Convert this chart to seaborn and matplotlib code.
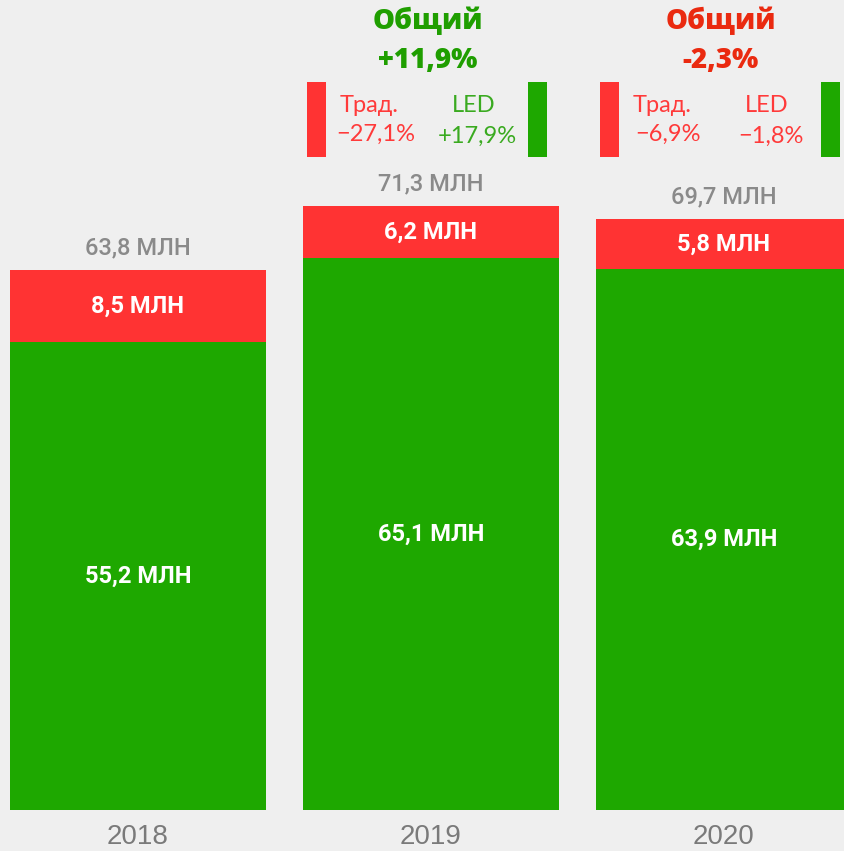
import matplotlib
matplotlib.use("Agg")
import matplotlib.pyplot as plt
import matplotlib.transforms as mtransforms
from matplotlib.patches import Rectangle
import seaborn as sns

# ---- data ----
years = ['2018', '2019', '2020']
led = [55.2, 65.1, 63.9]
trad = [8.5, 6.2, 5.8]
total = [63.8, 71.3, 69.7]
total_change = ['', '+11,9%', '-2,3%']
trad_change = ['', '−27,1%', '−6,9%']
led_change = ['', '+17,9%', '−1,8%']

GREEN = '#1ea800'
RED = '#ff3333'
BG = '#efefef'


def fmt(v):
    return f"{v:.1f}".replace('.', ',') + ' МЛН'


sns.set_style('white')
fig = plt.figure(figsize=(8.44, 8.51), dpi=100, facecolor=BG)
ax = fig.add_axes([0, 0, 1, 1])
ax.set_facecolor(BG)

stack_top = [a + b for a, b in zip(led, trad)]
sns.barplot(x=years, y=stack_top, color=RED, saturation=1, width=0.874,
            linewidth=0, ax=ax)
sns.barplot(x=years, y=led, color=GREEN, saturation=1, width=0.874,
            linewidth=0, ax=ax)

ax.set_xlim(-0.471, 2.41)
ax.set_ylim(-4.84, 95.6)
ax.axis('off')

# labels inside and above the bars
for i, yr in enumerate(years):
    ax.text(i, led[i] / 2, fmt(led[i]), ha='center', va='center',
            color='white', fontsize=17, family='Roboto', weight='bold')
    ax.text(i, led[i] + trad[i] / 2, fmt(trad[i]), ha='center', va='center',
            color='white', fontsize=17, family='Roboto', weight='bold')
    ax.annotate(fmt(total[i]), (i, stack_top[i]), xytext=(0, 16),
                textcoords='offset points', ha='center', va='center',
                color='#8a8a8a', fontsize=17, family='Roboto', weight='medium')
    ax.text(i, -3.2, yr, ha='center', va='center', color='#7a7a7a',
            fontsize=20, family='Liberation Sans')

# change headers (fixed height at the top)
blend = mtransforms.blended_transform_factory(ax.transData, ax.transAxes)
for i, ch in enumerate(total_change):
    if not ch:
        continue
    col = '#1f9e00' if ch.startswith('+') else '#ea2a10'
    ax.text(i - 0.01, 1 - 22 / 851, 'Общий', transform=blend, ha='center',
            va='center', color=col, fontsize=20, family='Open Sans',
            weight='heavy')
    ax.text(i - 0.01, 1 - 60 / 851, ch, transform=blend, ha='center',
            va='center', color=col, fontsize=20, family='Open Sans',
            weight='heavy')
    # small coloured markers
    ax.add_patch(Rectangle((i - 0.423, 1 - 157 / 851), 0.065, 75 / 851,
                           transform=blend, color=RED, lw=0))
    ax.add_patch(Rectangle((i + 0.331, 1 - 157 / 851), 0.065, 75 / 851,
                           transform=blend, color=GREEN, lw=0))
    ax.text(i - 0.21, 1 - 105 / 851, 'Трад.', transform=blend, ha='center',
            va='center', color='#ff3a3a', fontsize=17, family='Lato',
            weight='normal')
    ax.text(i - 0.19, 1 - 134 / 851, trad_change[i], transform=blend,
            ha='center', va='center', color='#ff3a3a', fontsize=17,
            family='Lato', weight='normal')
    led_col = '#3aaa20' if led_change[i].startswith('+') else '#ff3a3a'
    ax.text(i + 0.147, 1 - 105 / 851, 'LED', transform=blend, ha='center',
            va='center', color=led_col, fontsize=17, family='Lato',
            weight='normal')
    ax.text(i + 0.16, 1 - 136 / 851, led_change[i], transform=blend,
            ha='center', va='center', color=led_col, fontsize=17,
            family='Lato', weight='normal')

fig.savefig('out.png', dpi=100, facecolor=BG)
